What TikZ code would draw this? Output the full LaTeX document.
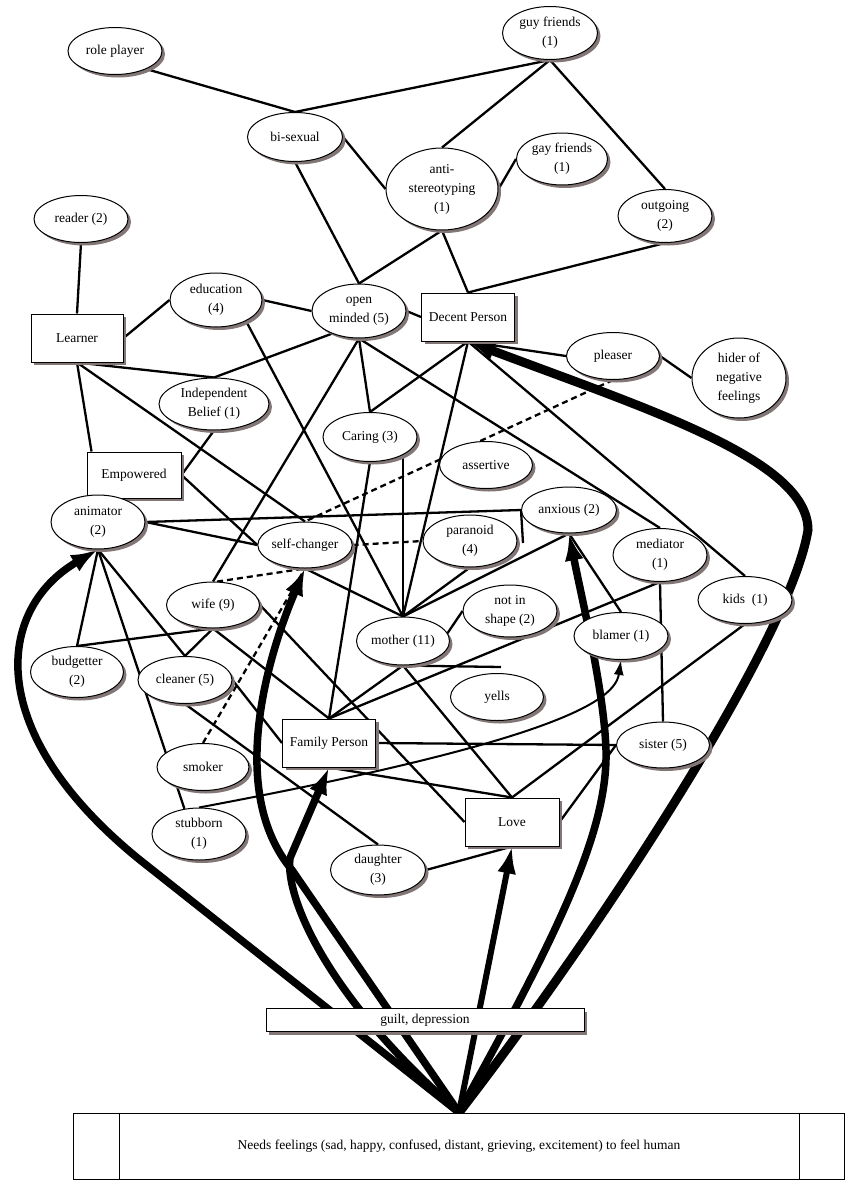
\documentclass[tikz,border=0pt]{standalone}
\usepackage{fontspec}
\setmainfont{Liberation Serif}
\usetikzlibrary{shapes.geometric,shadows,arrows.meta,calc,backgrounds}
\definecolor{shgray}{RGB}{130,118,118}
\tikzset{
  shadowed/.style={drop shadow={shadow xshift=3pt,shadow yshift=-3pt,fill=shgray,opacity=1}},
  ell/.style={ellipse,draw,fill=white,line width=1pt,inner sep=0pt,align=center,
    font=\fontsize{13.5}{19}\selectfont,shadowed},
  box/.style={rectangle,draw,fill=white,line width=1pt,inner sep=0pt,align=center,
    font=\fontsize{13.5}{19}\selectfont,shadowed},
  edge/.style={line width=2.3pt},
  dashededge/.style={line width=2.3pt,dash pattern=on 6pt off 4pt},
  thinarr/.style={line width=2pt,-{Latex[length=15pt,width=10pt]}},
  tharrow/.style={line width=7.5pt,-{Latex[length=27pt,width=19pt]}},
}
\begin{document}
\begin{tikzpicture}[x=1pt,y=-1pt]
\useasboundingbox (0,0) rectangle (849,1181);
% nodes
\node[ell,minimum width=94pt,minimum height=47pt] (rp) at (115,51) {role player};
\node[ell,minimum width=95pt,minimum height=53pt] (gf) at (550,33) {guy friends\\(1)};
\node[ell,minimum width=95pt,minimum height=49pt] (bs) at (295,137) {bi-sexual};
\node[ell,minimum width=112pt,minimum height=82pt] (as) at (442,189) {anti-\\stereotyping\\(1)};
\node[ell,minimum width=91pt,minimum height=52pt] (gy) at (562,159) {gay friends\\(1)};
\node[ell,minimum width=94pt,minimum height=53pt] (og) at (665,216) {outgoing\\(2)};
\node[ell,minimum width=94pt,minimum height=47pt] (rd) at (81,219) {reader (2)};
\node[ell,minimum width=92pt,minimum height=54pt] (ed) at (216,300) {education\\(4)};
\node[ell,minimum width=94pt,minimum height=54pt] (om) at (359,311) {open\\minded (5)};
\node[box,minimum width=92pt,minimum height=48pt] (le) at (77,338) {Learner};
\node[box,minimum width=93pt,minimum height=48pt] (dp) at (468,317) {Decent Person};
\node[ell,minimum width=93pt,minimum height=47pt] (pl) at (613,356) {pleaser};
\node[ell,minimum width=94pt,minimum height=80pt] (hi) at (739,378) {hider of\\negative\\feelings};
\node[ell,minimum width=110pt,minimum height=52pt] (ib) at (214,404) {Independent\\Belief (1)};
\node[ell,minimum width=94pt,minimum height=49pt] (ca) at (370,437) {Caring (3)};
\node[ell,minimum width=93pt,minimum height=47pt] (at) at (486,465) {assertive};
\node[box,minimum width=94pt,minimum height=46pt] (em) at (134,475) {Empowered};
\node[ell,minimum width=94pt,minimum height=54pt] (an) at (98,522) {animator\\(2)};
\node[ell,minimum width=94pt,minimum height=46pt] (sc) at (305,545) {self-changer};
\node[ell,minimum width=95pt,minimum height=46pt] (ax) at (569,510) {anxious (2)};
\node[ell,minimum width=94pt,minimum height=52pt] (pa) at (470,541) {paranoid\\(4)};
\node[ell,minimum width=94pt,minimum height=53pt] (me) at (660,555) {mediator\\(1)};
\node[ell,minimum width=93pt,minimum height=46pt] (wi) at (213,605) {wife (9)};
\node[ell,minimum width=93pt,minimum height=48pt] (mo) at (403,641) {mother (11)};
\node[ell,minimum width=94pt,minimum height=52pt] (ns) at (510,611) {not in\\shape (2)};
\node[ell,minimum width=94pt,minimum height=47pt] (bl) at (621,636) {blamer (1)};
\node[ell,minimum width=94pt,minimum height=47pt] (ki) at (745,600) {kids\ \ (1)};
\node[ell,minimum width=93pt,minimum height=51pt] (bu) at (77,672) {budgetter\\(2)};
\node[ell,minimum width=94pt,minimum height=47pt] (cl) at (185,680) {cleaner (5)};
\node[ell,minimum width=93pt,minimum height=47pt] (ye) at (497,697) {yells};
\node[box,minimum width=93pt,minimum height=48pt] (fp) at (329,743) {Family Person};
\node[ell,minimum width=93pt,minimum height=46pt] (si) at (663,745) {sister (5)};
\node[ell,minimum width=92pt,minimum height=47pt] (sm) at (203,767) {smoker};
\node[ell,minimum width=94pt,minimum height=52pt] (st) at (199,834) {stubborn\\(1)};
\node[box,minimum width=94pt,minimum height=48pt] (lo) at (512,822) {Love};
\node[ell,minimum width=95pt,minimum height=50pt] (da) at (378,870) {daughter\\(3)};
\node[box,minimum width=318pt,minimum height=23pt] (gd) at (425,1020) {guilt, depression};
\node[rectangle,draw,fill=white,line width=1pt,minimum width=771pt,minimum height=66pt,
  font=\fontsize{13.5}{19}\selectfont] (nf) at (459,1146)
  {Needs feelings (sad, happy, confused, distant, grieving, excitement) to feel human};
\draw[line width=1pt] ($(nf.north west)+(46,0)$) -- ($(nf.south west)+(46,0)$);
\draw[line width=1pt] ($(nf.north east)+(-46,0)$) -- ($(nf.south east)+(-46,0)$);
\coordinate (emtl) at ($(em.north west)+(5,0)$);
\coordinate (axstub) at (523,543);
\coordinate (mostub) at (501,667);
\coordinate (catop) at (mo.north |- ca.center);
\begin{pgfonlayer}{background}
\begin{scope}[edge]
\draw (rp.-30) -- (bs.north);
\draw (bs.north) -- (gf.south);
\draw (gf.south) -- (as.north);
\draw (gf.south) -- (og.north);
\draw (bs.east) -- (as.west);
\draw (bs.south) -- (om.north);
\draw (as.south) -- (om.north);
\draw (as.south) -- (dp.north);
\draw (og.south) -- (dp.north);
\draw (gy.west) -- (as.east);
\draw (rd.south) -- (le.north);
\draw (le.east) -- (ed.west);
\draw (ed.east) -- (om.west);
\draw (om.east) -- (dp.west);
\draw (om.-140) -- (ib.north);
\draw (le.south) -- (ib.north);
\draw (le.south) -- (emtl);
\draw (le.south) -- (sc.north);
\draw (ib.south) -- (em.east);
\draw (em.east) -- (sc.west);
\draw (ed.-35) -- (mo.north);
\draw (om.south) -- (wi.north);
\draw (om.south) -- (ca.north);
\draw (om.south) -- (me.north);
\draw (dp.south) -- (ca.north);
\draw (dp.south) -- (mo.north);
\draw (dp.south) -- (ki.north);
\draw (pl.west) -- (dp.south);
\draw (pl.east) -- (hi.west);
\draw[dashededge] (pl.south) -- (sc.north);
\draw[dashededge] (sc.east) -- (pa.west);
\draw[dashededge] (wi.80) -- (sc.south);
\draw[dashededge] (sm.north) -- (sc.south);
\draw (an.east) -- (ax.west);
\draw (ax.west) -- (axstub);
\draw (an.east) -- (sc.west);
\draw (an.south) -- (bu.north);
\draw (an.south) -- (st.120);
\draw (an.south) -- (cl.north);
\draw (bu.north) -- (wi.south);
\draw (cl.north) -- (wi.south);
\draw (wi.south) -- (fp.north);
\draw (wi.east) -- (lo.west);
\draw (cl.east) -- (fp.west);
\draw (cl.south) -- (da.north);
\draw (fp.north) -- (ca.south);
\draw (fp.north) -- (mo.south);
\draw (fp.north) -- (me.south);
\draw (mo.south) -- (mostub);
\draw (mo.south) -- (lo.north);
\draw (mo.north) -- (ax.south);
\draw (pa.south) -- (mo.north);
\draw (catop) -- (mo.north);
\draw (sc.south) -- (mo.north);
\draw (ns.west) -- (mo.10);
\draw (ax.south) -- (bl.north);
\draw (ki.south) -- (lo.north);
\draw (lo.east) -- (si.west);
\draw (me.south) -- (si.north);
\draw (fp.east) -- (si.west);
\draw (fp.south) -- (lo.north);
\draw (da.east) -- (lo.south);
\end{scope}
\draw[thinarr] (st.north) .. controls (560,740) and (615,700) .. (bl.south);
% thick arrows from needs
\draw[tharrow] (nf.north) -- (140,860) .. controls (-17,733) and (-5,610) .. (an.south);
\draw[tharrow] (nf.north) -- (292,870) .. controls (225,790) and (270,650) .. (sc.south);
\draw[tharrow] (nf.north) .. controls (330,1000) and (285,900) .. (290,858) -- (fp.south);
\draw[tharrow,line width=6pt] (nf.north) -- (lo.south);
\draw[tharrow] (nf.north) .. controls (560,930) and (608,830) .. (606,750)
  .. controls (604,690) and (582,600) .. (ax.south);
\draw[tharrow,line width=9pt] (nf.north) .. controls (600,930) and (790,640) .. (808,530)
  .. controls (808,460) and (650,410) .. (dp.south);
\end{pgfonlayer}
\end{tikzpicture}
\end{document}
